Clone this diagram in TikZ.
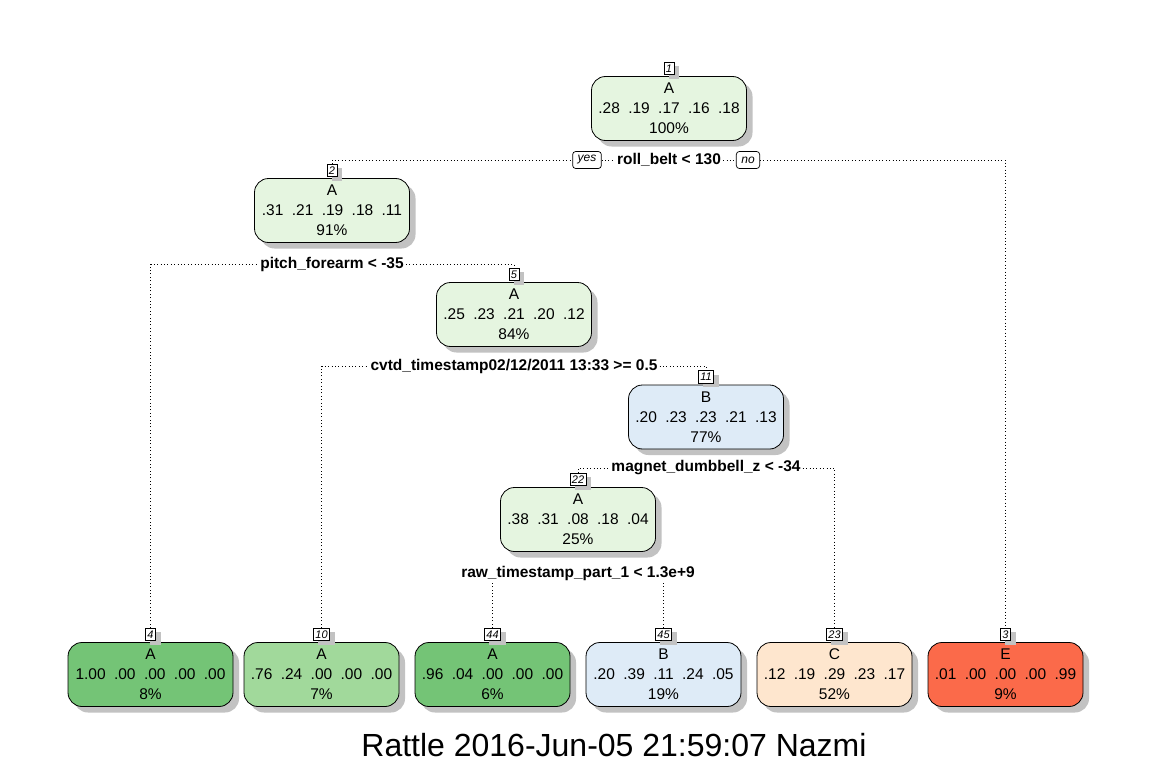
\documentclass[tikz,border=0pt]{standalone}
\usepackage{fontspec}
\setmainfont{Liberation Sans}
\usetikzlibrary{shadows}
\definecolor{cLG}{HTML}{E5F5E0}
\definecolor{cG}{HTML}{74C476}
\definecolor{cMG}{HTML}{A1D99B}
\definecolor{cLB}{HTML}{DEEBF7}
\definecolor{cPE}{HTML}{FEE6CE}
\definecolor{cRD}{HTML}{FB6A4A}
\newcommand\sgap{\hspace{8.4pt}}
\begin{document}
\begin{tikzpicture}[x=1pt,y=-1pt,
 tbox/.style={draw=black, line width=0.8pt, rounded corners=14pt, minimum width=155pt, minimum height=64pt, inner sep=0pt, align=center, font=\fontsize{15.5}{20}\selectfont, drop shadow={shadow xshift=6pt, shadow yshift=-6pt, fill=black!24, opacity=1}},
 nbox/.style={draw=black, line width=0.7pt, fill=white, inner xsep=2pt, inner ysep=0pt, minimum height=12.5pt, minimum width=10pt, font=\fontsize{11}{11}\selectfont\itshape, anchor=south, drop shadow={shadow xshift=5pt, shadow yshift=-4pt, fill=black!24, opacity=1}},
 slab/.style={fill=white, inner sep=2pt, font=\fontsize{15.5}{16}\selectfont\bfseries},
 yn/.style={draw=black, line width=0.7pt, fill=white, rounded corners=3pt, inner xsep=5pt, inner ysep=0pt, minimum height=17pt, font=\fontsize{12}{12}\selectfont\itshape},
 conn/.style={line width=0.9pt, dash pattern=on 1pt off 2.4pt}]
\useasboundingbox[fill=white] (0,0) rectangle (1152,768);

% internal nodes
\node[tbox, fill=cLG] (n1) at (669,108.5) {A\\.28\sgap.19\sgap.17\sgap.16\sgap.18\\100\%};
\node[tbox, fill=cLG] (n2) at (332,210.5) {A\\.31\sgap.21\sgap.19\sgap.18\sgap.11\\91\%};
\node[tbox, fill=cLG] (n5) at (514,314.5) {A\\.25\sgap.23\sgap.21\sgap.20\sgap.12\\84\%};
\node[tbox, fill=cLB] (n11) at (706,417) {B\\.20\sgap.23\sgap.23\sgap.21\sgap.13\\77\%};
\node[tbox, fill=cLG] (n22) at (578,519.5) {A\\.38\sgap.31\sgap.08\sgap.18\sgap.04\\25\%};

% leaves
\node[tbox, fill=cG, minimum width=165pt] (n4) at (150.5,674.5) {A\\1.00\sgap.00\sgap.00\sgap.00\sgap.00\\8\%};
\node[tbox, fill=cMG] (n10) at (321.5,674.5) {A\\.76\sgap.24\sgap.00\sgap.00\sgap.00\\7\%};
\node[tbox, fill=cG] (n44) at (492.5,674.5) {A\\.96\sgap.04\sgap.00\sgap.00\sgap.00\\6\%};
\node[tbox, fill=cLB] (n45) at (663.5,674.5) {B\\.20\sgap.39\sgap.11\sgap.24\sgap.05\\19\%};
\node[tbox, fill=cPE] (n23) at (834.5,674.5) {C\\.12\sgap.19\sgap.29\sgap.23\sgap.17\\52\%};
\node[tbox, fill=cRD] (n3) at (1005.5,674.5) {E\\.01\sgap.00\sgap.00\sgap.00\sgap.99\\9\%};

% number boxes
\node[nbox] (k1) at ([yshift=1pt]n1.north) {1};
\node[nbox] (k2) at ([yshift=1pt]n2.north) {2};
\node[nbox] (k5) at ([yshift=1pt]n5.north) {5};
\node[nbox] (k11) at ([yshift=1pt]n11.north) {11};
\node[nbox] (k22) at ([yshift=1pt]n22.north) {22};
\node[nbox] (k4) at ([yshift=1pt]n4.north) {4};
\node[nbox] (k10) at ([yshift=1pt]n10.north) {10};
\node[nbox] (k44) at ([yshift=1pt]n44.north) {44};
\node[nbox] (k45) at ([yshift=1pt]n45.north) {45};
\node[nbox] (k23) at ([yshift=1pt]n23.north) {23};
\node[nbox] (k3) at ([yshift=1pt]n3.north) {3};

% split labels
\node[slab] (s1) at (669,160) {roll\_belt < 130};
\node[yn] (yes) at (587,160) {yes};
\node[yn] (no) at (748,160) {no};
\node[slab] (s2) at (332,264) {pitch\_forearm < -35};
\node[slab] (s5) at (514,366) {cvtd\_timestamp02/12/2011 13:33 >= 0.5};
\node[slab] (s11) at (706,468) {magnet\_dumbbell\_z < -34};
\node[slab] (s22) at (578,573) {raw\_timestamp\_part\_1 < 1.3e+9};

% connectors
\draw[conn] (k2.north) |- (yes.west);
\draw[conn] (yes.east) -- (s1.west);
\draw[conn] (s1.east) -- (no.west);
\draw[conn] (no.east) -| (k3.north);
\draw[conn] (k4.north) |- (s2.west);
\draw[conn] (s2.east) -| (k5.north);
\draw[conn] (k10.north) |- (s5.west);
\draw[conn] (s5.east) -| (k11.north);
\draw[conn] (k22.north) |- (s11.west);
\draw[conn] (s11.east) -| (k23.north);
\draw[conn] (k44.north) -- (k44.north |- s22.south);
\draw[conn] (k45.north) -- (k45.north |- s22.south);

% title
\node[anchor=base, font=\fontsize{32}{32}\selectfont, inner sep=0pt] (title) at (614,756) {Rattle 2016-Jun-05 21:59:07 Nazmi};
\end{tikzpicture}
\end{document}
